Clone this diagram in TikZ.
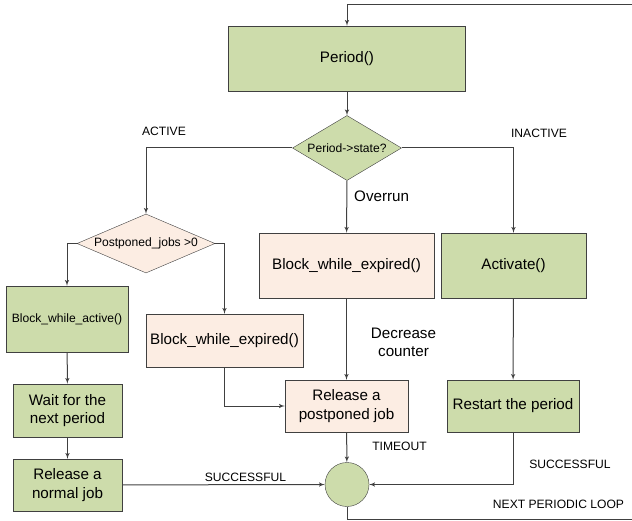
\documentclass[tikz,border=0pt]{standalone}
\usepackage{fontspec}
\setmainfont{Liberation Sans}
\usepackage{xcolor}
\usepackage{tikz}
\usetikzlibrary{shapes,arrows}
\usetikzlibrary{shapes.geometric}
\usetikzlibrary{positioning}

\definecolor{boxgreen}{RGB}{205,220,171}
\definecolor{boxpeach}{RGB}{252,237,227}
\definecolor{edgegray}{RGB}{64,64,64}

\begin{document}
\begin{tikzpicture}[x=1pt, y=-1pt, auto,
			block/.style={
					rectangle,
					draw=edgegray,
					fill=boxgreen,
					align=center,
					inner sep=0pt,
					font=\fontsize{15.2}{18.3}\selectfont
				},
			peach/.style={block, fill=boxpeach},
			decision/.style={
					diamond,
					draw=edgegray,
					inner sep=0pt,
					font=\fontsize{12.1}{14}\selectfont
				},
			label/.style={font=\fontsize{12.1}{14}\selectfont, inner sep=0pt},
			biglabel/.style={font=\fontsize{15.2}{18.3}\selectfont, inner sep=0pt, align=center},
			line/.style={draw=edgegray, line width=1pt, -latex'}
		]
		\useasboundingbox (0,0) rectangle (632,521);
		% Place nodes
		\node [block, minimum width=237pt, minimum height=65pt] (period) at (347,58.5) {Period()};
		\node [decision, fill=boxgreen, minimum width=109pt, minimum height=65pt, aspect=1.68] (state) at (347,148) {Period->state?};
		\node [decision, fill=boxpeach, minimum width=138pt, minimum height=59pt, aspect=2.34] (postp) at (146,243.5) {Postponed\_jobs >0};
		\node [block, minimum width=122pt, minimum height=66pt, font=\fontsize{12.1}{14}\selectfont] (bwa) at (67,319) {Block\_while\_active()};
		\node [peach, minimum width=157pt, minimum height=53pt] (bwe1) at (224.5,340.5) {Block\_while\_expired()};
		\node [peach, minimum width=175pt, minimum height=65pt] (bwe2) at (346.5,265.5) {Block\_while\_expired()};
		\node [block, minimum width=145pt, minimum height=65pt] (act) at (513.5,265.5) {Activate()};
		\node [block, minimum width=109pt, minimum height=53pt] (wait) at (67.5,410.5) {Wait for the\\next period};
		\node [block, minimum width=109pt, minimum height=52pt] (relnorm) at (67.5,485) {Release a\\normal job};
		\node [peach, minimum width=123pt, minimum height=52pt] (relpost) at (346.5,406) {Release a\\postponed job};
		\node [block, minimum width=132pt, minimum height=52pt] (restart) at (513,406) {Restart the period};
		\node [circle, draw=edgegray, fill=boxgreen, minimum size=44pt, inner sep=0pt] (join) at (347,484.5) {};
		% Labels
		\node [label] (lactive) at (164,131) {ACTIVE};
		\node [label] (linactive) at (539,133) {INACTIVE};
		\node [biglabel, anchor=west] (loverrun) at (354,196) {Overrun};
		\node [biglabel] (ldecrease) at (403.5,342.5) {Decrease\\counter};
		\node [label] (ltimeout) at (399.5,446) {TIMEOUT};
		\node [label] (lsucc1) at (245.5,477) {SUCCESSFUL};
		\node [label] (lsucc2) at (570,464) {SUCCESSFUL};
		\node [label] (lnext) at (558.5,504) {NEXT PERIODIC LOOP};
		\coordinate (loopbot) at (640,519);
		\coordinate (looptop) at (640,5);
		% Draw edges
		\path [line] (period) -- (state);
		\path [line] (state.west) -| (postp.north);
		\path [line] (state.east) -| (act.north);
		\path [line] (state) -- (bwe2);
		\path [line] (postp.west) -| (bwa.north);
		\path [line] (postp.east) -| (bwe1.north);
		\path [line] (bwa) -- (wait);
		\path [line] (wait) -- (relnorm);
		\path [line] (bwe1.south) |- (relpost.west);
		\path [line] (bwe2) -- (relpost);
		\path [line] (act) -- (restart);
		\path [line] (relpost) -- (join);
		\path [line] (relnorm) -- (join);
		\path [line] (restart.south) |- (join.east);
		\path [line] (join.south) |- (loopbot) -- (looptop) -| (period.north);
	\end{tikzpicture}
\end{document}
